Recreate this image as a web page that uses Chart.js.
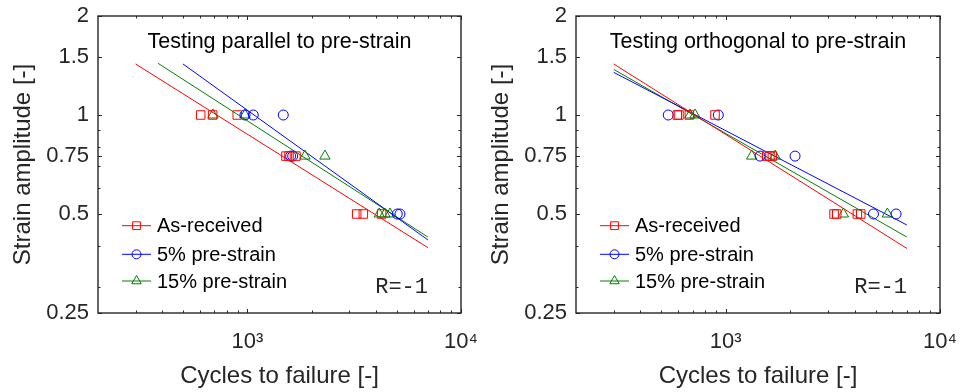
<!DOCTYPE html>
<html>
<head>
<meta charset="utf-8">
<script src="https://cdn.jsdelivr.net/npm/chart.js@4.4.1/dist/chart.umd.min.js"></script>
<style>
  html, body { margin: 0; padding: 0; background: #fff; }
  #wrap { position: relative; width: 968px; height: 392px; }
  .panel { position: absolute; top: 0; width: 484px; height: 392px; }
</style>
</head>
<body>
<div id="wrap">
  <div class="panel" style="left:0"><canvas id="left" width="484" height="392"></canvas></div>
  <div class="panel" style="left:484px"><canvas id="right" width="484" height="392"></canvas></div>
</div>
<script>
// series names shared by both panels
const seriesNames = ['As-received', '5% pre-strain', '15% pre-strain'];

// testing parallel to pre-strain
const parAsRecCycles = [605, 688, 897, 1516, 1567, 1688, 3250, 3490, 4250];
const parAsRecStrain = [1, 1, 1, 0.75, 0.75, 0.75, 0.5, 0.5, 0.5];
const par5Cycles = [975, 1066, 1473, 1595, 1630, 5030, 5180];
const par5Strain = [1, 1, 1, 0.75, 0.75, 0.5, 0.5];
const par15Cycles = [690, 975, 1861, 2308, 4143, 4406, 4650];
const par15Strain = [1, 1, 0.75, 0.75, 0.5, 0.5, 0.5];
// fitted lines (start / end)
const parFitCycles = [[300, 7000], [500, 7000], [382, 7000]];
const parFitStrain = [[1.429, 0.395], [1.429, 0.417], [1.436, 0.4255]];

// testing orthogonal to pre-strain
const ortAsRecCycles = [594, 605, 676, 891, 1554, 1609, 1650, 3203, 3297, 4115, 4268];
const ortAsRecStrain = [1, 1, 1, 1, 0.75, 0.75, 0.75, 0.5, 0.5, 0.5, 0.5];
const ort5Cycles = [539, 923, 1446, 2106, 4890, 6237];
const ort5Strain = [1, 1, 0.75, 0.75, 0.5, 0.5];
const ort15Cycles = [681, 719, 1322, 1699, 3540, 5680];
const ort15Strain = [1, 1, 0.75, 0.75, 0.5, 0.5];
const ortFitCycles = [[300, 7000], [300, 7000], [300, 7000]];
const ortFitStrain = [[1.429, 0.393], [1.348, 0.463], [1.376, 0.4255]];

// axes
const xTickValues = [1000, 10000];
const xTickLabels = ['10\u00b3', '10\u2074'];
const yTickValues = [0.25, 0.5, 0.75, 1, 1.5, 2];
const yTickLabels = ['0.25', '0.5', '0.75', '1', '1.5', '2'];
const xMinorTicks = [300, 400, 500, 600, 700, 800, 900, 2000, 3000, 4000, 5000, 6000, 7000, 8000, 9000];
const yMinorTicks = [0.3, 0.4, 0.6, 0.7, 0.8, 0.9];

const colors = ['#ff0000', '#0000ff', '#008000'];
const markers = ['rect', 'circle', 'triangle'];
const markerSize = [6, 5, 6];
const ink = '#262626';
const sans = '"Liberation Sans", Arial, Helvetica, sans-serif';

function pts(xs, ys) {
  return xs.map((x, i) => ({ x: x, y: ys[i] }));
}

function buildDatasets(cycles, strains, fitC, fitS) {
  const ds = [];
  for (let i = 0; i < 3; i++) {
    ds.push({
      label: seriesNames[i],
      data: pts(cycles[i], strains[i]),
      showLine: false,
      pointStyle: markers[i],
      pointRadius: markerSize[i],
      pointHoverRadius: markerSize[i],
      borderColor: colors[i],
      backgroundColor: 'rgba(0,0,0,0)',
      pointBorderWidth: 1,
      isMarker: true
    });
  }
  for (let i = 0; i < 3; i++) {
    ds.push({
      label: seriesNames[i] + ' fit',
      data: pts(fitC[i], fitS[i]),
      showLine: true,
      pointRadius: 0,
      borderColor: colors[i],
      borderWidth: 1,
      backgroundColor: 'rgba(0,0,0,0)'
    });
  }
  return ds;
}

// box, inward ticks, panel title, legend and R note
const framePlugin = {
  id: 'frame',
  afterDraw(chart, args, opts) {
    const { ctx, chartArea: a, scales } = chart;
    const x = scales.x, y = scales.y;
    ctx.save();
    ctx.strokeStyle = ink;
    ctx.lineWidth = 1;
    const tick = (vals, len, horiz) => {
      vals.forEach(v => {
        if (horiz) {
          const px = Math.round(x.getPixelForValue(v)) + 0.5;
          ctx.beginPath();
          ctx.moveTo(px, a.bottom); ctx.lineTo(px, a.bottom - len);
          ctx.moveTo(px, a.top); ctx.lineTo(px, a.top + len);
          ctx.stroke();
        } else {
          const py = Math.round(y.getPixelForValue(v)) + 0.5;
          ctx.beginPath();
          ctx.moveTo(a.left, py); ctx.lineTo(a.left + len, py);
          ctx.moveTo(a.right, py); ctx.lineTo(a.right - len, py);
          ctx.stroke();
        }
      });
    };
    tick(xTickValues, 4, true);
    tick(xMinorTicks, 2.5, true);
    tick(yTickValues, 4, false);
    tick(yMinorTicks, 2.5, false);
    ctx.lineWidth = 1.4;
    ctx.strokeRect(a.left, a.top, a.right - a.left, a.bottom - a.top);

    // panel title
    ctx.fillStyle = '#000';
    ctx.font = '21.5px ' + sans;
    ctx.textAlign = 'center';
    ctx.textBaseline = 'middle';
    ctx.fillText(opts.title, (a.left + a.right) / 2, a.top + 26);

    // R ratio
    ctx.font = '22px "Liberation Mono", "Courier New", monospace';
    ctx.textAlign = 'right';
    ctx.fillStyle = ink;
    ctx.fillText(opts.note, a.right - 33, a.bottom - 26);

    // legend
    ctx.font = '20px ' + sans;
    ctx.textAlign = 'left';
    const rows = [209.7, 238.3, 265];
    const lx = a.left + 24;
    chart.data.datasets.filter(d => d.isMarker).forEach((d, i) => {
      const ry = a.top + rows[i];
      ctx.strokeStyle = d.borderColor;
      ctx.lineWidth = 1;
      ctx.beginPath();
      ctx.moveTo(lx, ry); ctx.lineTo(lx + 29, ry);
      ctx.stroke();
      ctx.fillStyle = 'rgba(0,0,0,0)';
      Chart.helpers.drawPoint(ctx, {
        pointStyle: d.pointStyle, rotation: 0,
        radius: d.pointRadius - 0.5, borderWidth: 1
      }, lx + 14.5, ry);
      ctx.fillStyle = '#000';
      ctx.fillText(d.label, lx + 35, ry + 1);
    });
    ctx.restore();
  }
};

function makeChart(id, datasets, title, yWidth, padRight, yTitlePad) {
  return new Chart(document.getElementById(id), {
    type: 'scatter',
    data: { datasets: datasets },
    plugins: [framePlugin],
    options: {
      responsive: false,
      animation: false,
      events: [],
      layout: { padding: { left: 0, right: padRight, top: 16, bottom: 0 } },
      plugins: {
        legend: { display: false },
        tooltip: { enabled: false },
        frame: { title: title, note: 'R=-1' }
      },
      scales: {
        x: {
          type: 'logarithmic',
          min: 200, max: 10000,
          position: 'bottom',
          grid: { display: false, drawTicks: false },
          border: { display: false },
          afterBuildTicks: s => { s.ticks = xTickValues.map(v => ({ value: v })); },
          afterFit: s => { s.height = 79; s.paddingLeft = 0; s.paddingRight = 0; },
          ticks: {
            autoSkip: false, maxRotation: 0, padding: 16,
            color: ink, font: { family: sans, size: 22 },
            callback: v => xTickLabels[xTickValues.indexOf(v)]
          },
          title: {
            display: true, text: 'Cycles to failure [-]', color: ink,
            font: { family: sans, size: 24 }, padding: { top: 0, bottom: 1 }
          }
        },
        y: {
          type: 'logarithmic',
          min: 0.25, max: 2,
          grid: { display: false, drawTicks: false },
          border: { display: false },
          afterBuildTicks: s => { s.ticks = yTickValues.map(v => ({ value: v })); },
          afterFit: s => { s.width = yWidth; s.paddingTop = 0; s.paddingBottom = 0; },
          ticks: {
            autoSkip: false, padding: 9,
            color: ink, font: { family: sans, size: 22 },
            callback: v => yTickLabels[yTickValues.indexOf(v)]
          },
          title: {
            display: true, text: 'Strain amplitude [-]', color: ink,
            font: { family: sans, size: 24 }, padding: { top: yTitlePad, bottom: 0 }
          }
        }
      }
    }
  });
}

makeChart('left',
  buildDatasets([parAsRecCycles, par5Cycles, par15Cycles],
                [parAsRecStrain, par5Strain, par15Strain], parFitCycles, parFitStrain),
  'Testing parallel to pre-strain', 98, 23, 9);

makeChart('right',
  buildDatasets([ortAsRecCycles, ort5Cycles, ort15Cycles],
                [ortAsRecStrain, ort5Strain, ort15Strain], ortFitCycles, ortFitStrain),
  'Testing orthogonal to pre-strain', 92, 28, 3);
</script>
</body>
</html>
